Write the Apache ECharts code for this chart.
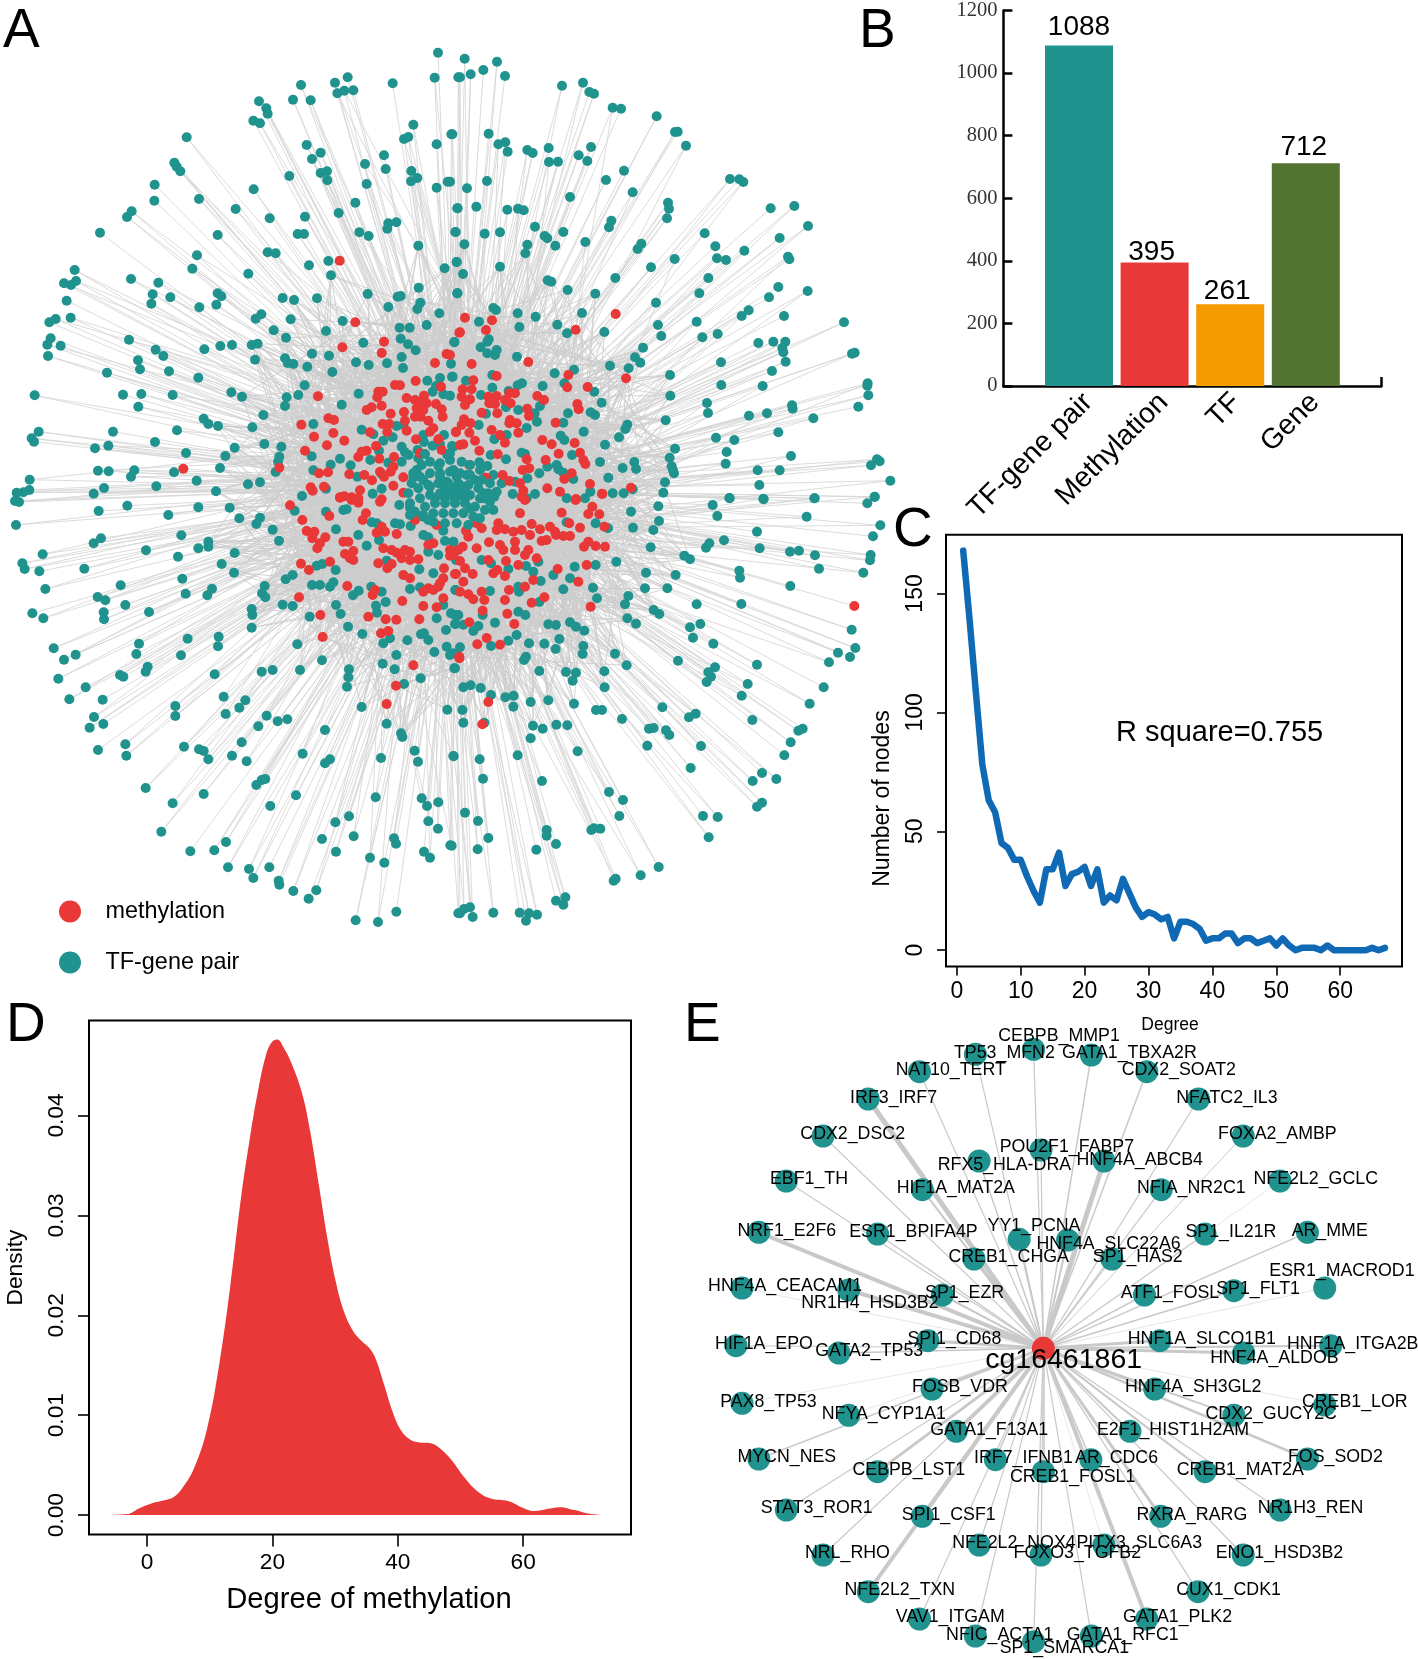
<!DOCTYPE html>
<html><head><meta charset="utf-8">
<style>html,body{margin:0;padding:0;background:#fff}#c{width:1418px;height:1659px}</style>
<script src="https://cdn.jsdelivr.net/npm/echarts@6/dist/echarts.min.js"></script>
</head><body><div id="c"></div>
<script>
const FONT='"Liberation Sans",Arial,sans-serif';
const TEAL='#20938F',RED='#E93838';
// ---------- Panel B
const barCategories=['TF-gene pair','Methylation','TF','Gene'];
const barValues=[1088,395,261,712];
const barColors=[TEAL,RED,'#F59B00','#537330'];
const barLabelNudge=[[0,-2],[-3,6],[-3,3],[-2,0]];
// ---------- Panel C
const degreeNodes=[168,139,108,78,63,58,45,43,38,38,31,25,20,34,34,41,27,32,33,35,27,34,20,23,21,30,24,18,14,16,15,13,14,5,12,12,11,9,4,5,5,7,7,3,5,5,3,4,5,2,5,2,0,1,1,1,0,2,0,0,0,0,0,0,1,0,1];
// ---------- Panel D
const densityX=[-7,-3.2,-1.2,.8,2.8,4.2,5.5,7.5,9.6,11.6,13.3,15,16.3,17.6,19,20,20.8,21.7,23,24.7,26,27.4,28.8,30.1,31.4,32.8,34.1,35.5,36.5,37.8,39.2,40.5,41.9,43.2,45.3,46.9,48.6,50.6,52.7,54.7,57.7,60.1,61.8,63.8,65.8,68.2,70.8,73.5];
const densityY=[0,.0001,.0007,.0012,.0015,.0018,.0026,.0047,.0087,.0154,.023,.0318,.0373,.0421,.0461,.0474,.0476,.0469,.0453,.0423,.0385,.0331,.0276,.0234,.0204,.0185,.0175,.0167,.0156,.0131,.0103,.0085,.0076,.0073,.0072,.0066,.0055,.0038,.0024,.0017,.0014,.0007,.0004,.0006,.0008,.0005,.0001,0];
// ---------- Panel E: [name, nodeX, nodeY, labelLeft, labelY, edgeWidth] in layout units
const hubName='cg16461861';
const hubPos=[763,1015];
const subNet=[
['CEBPB_MMP1',742,118,665,73,1.2],['TP53_MFN2',617,133,570,125,1.2],['GATA1_TBXA2R',866,135,802,125,1.5],['NAT10_TERT',497,185,445,176,1.2],['CDX2_SOAT2',985,185,930,176,1.5],
['IRF3_IRF7',387,267,347,258,5],['NFATC2_IL3',1096,267,1047,258,1.2],['CDX2_DSC2',290,378,240,368,1.2],['FOXA2_AMBP',1192,378,1137,368,1],['POU2F1_FABP7',758,420,668,405,1.2],
['RFX5_HLA-DRA',625,453,535,460,1.5],['HNF4A_ABCB4',893,453,833,444,5],['EBF1_TH',211,513,175,503,1.2],['HIF1A_MAT2A',503,539,447,529,2],['NFIA_NR2C1',1016,539,963,529,1.2],
['NFE2L2_GCLC',1271,513,1213,503,.7],['NRF1_E2F6',152,667,105,657,4],['ESR1_BPIFA4P',407,672,345,662,1.5],['YY1_PCNA',711,688,642,643,2],['HNF4A_SLC22A6',815,690,747,696,2],
['SP1_IL21R',1110,672,1067,662,1.2],['AR_MME',1330,667,1295,657,1.5],['CREB1_CHGA',614,747,558,737,3],['SP1_HAS2',910,747,868,737,1.2],['ESR1_MACROD1',1367,834,1247,779,.8],
['HNF4A_CEACAM1',116,834,42,824,.8],['NR1H4_HSD3B2',345,840,242,875,4],['SP1_EZR',546,855,508,845,2],['ATF1_FOSL',980,855,928,845,1.5],['SP1_FLT1',1172,842,1133,832,1.5],
['HIF1A_EPO',103,1007,57,997,1],['SPI1_CD68',515,992,470,982,3],['HNF1A_SLCO1B1',1013,992,943,982,3],['HNF1A_ITGA2B',1380,1007,1285,997,2],['GATA2_TP53',324,1029,272,1019,1.5],
['HNF4A_ALDOB',1193,1029,1120,1038,3],['FOSB_VDR',524,1137,480,1127,3],['HNF4A_SH3GL2',1002,1137,937,1127,3],['PAX8_TP53',116,1180,68,1170,.7],['CREB1_LOR',1367,1185,1317,1170,.7],
['NFYA_CYP1A1',345,1216,286,1206,.7],['CDX2_GUCY2C',1172,1216,1110,1206,2],['GATA1_F13A1',576,1264,519,1254,4],['E2F1_HIST1H2AM',949,1264,877,1254,2],['MYCN_NES',152,1347,105,1337,1.5],
['FOS_SOD2',1330,1347,1287,1337,2.5],['IRF7_IFNB1',660,1349,613,1340,1.5],['AR_CDC6',865,1349,830,1340,1.5],['CEBPB_LST1',407,1385,352,1375,3],['CREB1_MAT2A',1110,1385,1048,1375,2],
['CREB1_FOSL1',763,1385,690,1396,1.5],['STAT3_ROR1',211,1500,155,1490,1.2],['NR1H3_REN',1271,1500,1222,1490,1.2],['SPI1_CSF1',503,1519,458,1509,4],['RXRA_RARG',1015,1519,962,1509,3],
['NFE2L2_NOX4',625,1605,566,1595,1.2],['PITX3_SLC6A3',893,1605,833,1595,.7],['NRL_RHO',290,1635,250,1625,1.2],['ENO1_HSD3B2',1192,1635,1132,1625,1.2],['FOXO3_TGFB2',758,1635,698,1625,1.2],
['NFE2L2_TXN',387,1745,335,1736,4],['CUX1_CDK1',1095,1745,1047,1736,1.2],['VAV1_ITGAM',497,1827,445,1817,1.2],['GATA1_PLK2',985,1827,933,1817,4],['NFIC_ACTA1',617,1878,553,1869,1.2],
['GATA1_RFC1',866,1878,812,1869,1.2],['SP1_SMARCA1',742,1895,668,1910,1.2]];
// ---------- Panel A: node layout, read quadrant by quadrant
const pairsNW=[[1314,158],[1304,233],[1375,232],[1043,232],[1005,248],[903,255],[1178,250],[1012,280],[1033,272],[1060,271],[879,299],[932,301],[777,304],[799,325],[803,341],[760,362],[780,370],[1240,374],[1354,403],[1212,417],[1225,411],[1310,433],[920,435],[962,458],[1152,466],[936,477],[1095,492],[1157,507],[1234,513],[981,514],[962,519],[560,412],[523,488],[530,500],[541,514],[982,541],[868,528],[1252,534],[1233,544],[1343,545],[1310,563],[1100,552],[464,554],[761,568],[597,597],[463,602],[1066,608],[707,627],[1372,625],[395,634],[381,651],[809,655],[915,650],[1016,639],[1189,667],[1165,670],[1162,686],[300,698],[653,705],[893,702],[912,702],[1078,697],[1106,708],[1367,696],[1255,737],[803,757],[827,760],[591,766],[985,783],[927,796],[577,806],[1370,786],[1334,805],[224,810],[745,821],[993,826],[393,837],[192,850],[213,855],[228,843],[475,848],[458,883],[511,892],[653,880],[664,889],[848,894],[882,900],[951,895],[1103,882],[1193,890],[1202,888],[1256,863],[1371,880],[200,902],[454,911],[649,914],[598,922],[1165,921],[1261,908],[1252,927],[784,943],[767,956],[872,958],[1318,940],[212,953],[148,967],[167,957],[1028,963],[1199,983],[1229,983],[1280,975],[821,991],[978,993],[858,1013],[152,1015],[387,1019],[142,1034],[182,1037],[1202,1016],[1224,1033],[1090,1028],[1363,1026],[613,1048],[661,1038],[696,1035],[755,1035],[773,1031],[467,1049],[1247,1051],[490,1068],[144,1068],[936,1061],[987,1067],[855,1075],[765,1079],[414,1081],[863,1089],[880,1092],[1068,1087],[1106,1095],[1161,1090],[1205,1071],[922,1100],[1209,1104],[1353,1091],[420,1108],[507,1114],[997,1116],[321,1118],[595,1133],[1282,1142],[1320,1134],[1356,1130],[914,1156],[1076,1181],[1308,1158],[1298,1175],[1330,1183],[694,1177],[369,1184],[424,1182],[518,1185],[726,1190],[860,1192],[895,1185],[1350,1187],[104,1186],[415,1220],[855,1218],[1025,1214],[790,1245],[611,1256],[625,1272],[654,1278],[757,1282],[940,1272],[1085,1289],[1190,1278],[1210,1275],[531,1291],[339,1295],[116,1295],[95,1315],[102,1325],[285,1345],[325,1337],[465,1326],[1120,1303],[1178,1312],[1150,1322],[1270,1305],[1332,1305],[1272,1326],[1298,1337],[1320,1332],[793,1332],[844,1340],[704,1343],[558,1359],[676,1368],[838,1370],[935,1369],[1137,1352],[1205,1340],[1215,1357],[1253,1350],[1226,1365],[1356,1338],[834,1385],[1020,1376],[1111,1380],[1165,1388],[1205,1385],[1342,1365],[660,1404],[294,1412],[326,1414],[403,1411],[393,1430],[522,1417],[827,1416],[940,1411],[992,1394],[1052,1396],[1315,1398],[1255,1375],[1072,1430],[1145,1422],[1250,1410],[1240,1432],[1320,1430],[1360,1410],[89,1439],[590,1442],[780,1447],[744,1453],[469,1459],[312,1464],[88,1470],[70,1477],[50,1478],[281,1481],[648,1474],[906,1488],[978,1466],[1118,1481],[1145,1466],[1270,1440],[1340,1445],[1290,1460]];
const methNW=[[1019,782],[1066,967],[1152,1025],[1027,1042],[1145,1059],[1340,1062],[1305,1089],[1247,1143],[1378,998],[1185,1155],[1200,1156],[1323,1160],[954,1189],[1135,1175],[1148,1175],[1132,1192],[1220,1194],[1272,1187],[1245,1200],[1262,1205],[1280,1210],[1308,1212],[1145,1217],[1115,1222],[1100,1230],[1325,1228],[1212,1236],[1250,1225],[1270,1230],[1172,1241],[985,1255],[1002,1260],[1245,1250],[1262,1250],[1328,1250],[1215,1262],[1285,1262],[904,1274],[1148,1272],[1168,1272],[1300,1285],[1220,1292],[1162,1296],[1290,1295],[1368,1295],[1000,1299],[1110,1297],[942,1310],[1248,1318],[1315,1318],[981,1336],[1033,1322],[1128,1338],[1100,1352],[915,1352],[1085,1355],[1075,1371],[1138,1376],[1182,1371],[1325,1350],[1260,1360],[838,1403],[1180,1400],[1172,1415],[550,1406],[957,1420],[984,1417],[1048,1423],[1093,1425],[1140,1415],[1116,1441],[1210,1432],[1152,1430],[932,1462],[938,1472],[972,1460],[1080,1471],[1180,1457],[1210,1478],[1020,1492],[1033,1489],[1055,1492],[1075,1495],[1145,1498]];
const pairsNE=[[44,176],[141,185],[100,210],[62,223],[30,232],[165,228],[336,257],[399,248],[418,276],[432,281],[488,323],[513,326],[620,349],[675,396],[683,395],[708,437],[7,403],[116,401],[145,433],[166,427],[173,455],[232,450],[248,459],[296,444],[423,441],[386,466],[412,483],[297,486],[324,485],[522,512],[468,540],[840,537],[868,538],[880,546],[0,545],[111,543],[51,565],[548,577],[360,591],[654,608],[657,626],[962,625],[1033,618],[23,625],[79,620],[172,629],[204,626],[221,631],[651,655],[1074,678],[484,662],[477,682],[255,680],[16,696],[104,701],[150,697],[340,696],[284,708],[292,715],[764,700],[989,714],[406,726],[43,733],[232,734],[226,760],[316,737],[574,731],[563,747],[796,739],[883,752],[801,775],[828,780],[674,777],[1014,770],[1018,778],[20,786],[150,800],[39,822],[603,802],[775,834],[496,834],[293,841],[304,845],[985,861],[353,870],[436,881],[748,880],[1073,873],[23,880],[957,892],[618,908],[896,931],[875,948],[130,924],[138,930],[203,940],[257,950],[396,939],[1002,948],[1182,967],[740,965],[87,965],[322,974],[208,981],[624,975],[463,996],[351,1000],[634,1008],[803,1002],[757,1012],[925,1029],[970,1025],[1006,1025],[997,1044],[1000,1057],[1007,1085],[1206,1061],[1214,1058],[13,1027],[116,1018],[112,1025],[92,1042],[112,1060],[135,1065],[140,1050],[579,1043],[201,1070],[555,1072],[571,1088],[813,1087],[480,1097],[536,1105],[372,1109],[966,1113],[314,1120],[8,1130],[127,1125],[660,1125],[343,1150],[48,1142],[216,1150],[203,1156],[278,1158],[814,1155],[938,1158],[1253,1150],[1252,1157],[433,1175],[176,1173],[127,1163],[93,1185],[1255,1186],[661,1187],[168,1222],[771,1209],[455,1208],[1026,1216],[1028,1226],[1225,1220],[270,1218],[205,1230],[422,1237],[435,1245],[774,1239],[354,1240],[108,1241],[254,1240],[897,1247],[951,1240],[1090,1255],[261,1265],[340,1268],[647,1261],[532,1274],[526,1287],[230,1284],[86,1275],[985,1297],[401,1295],[507,1312],[798,1313],[853,1320],[133,1318],[170,1305],[332,1307],[343,1320],[465,1334],[675,1346],[830,1356],[1023,1368],[1281,1378],[1289,1384],[1263,1396],[659,1373],[366,1365],[225,1362],[215,1358],[168,1378],[122,1365],[450,1386],[553,1386],[558,1407],[665,1399],[669,1411],[672,1420],[827,1391],[989,1411],[923,1411],[1321,1442],[928,1455],[518,1404],[320,1395],[292,1400],[325,1408],[340,1418],[268,1420],[370,1437],[475,1433],[645,1447],[232,1435],[195,1445],[155,1450],[130,1425],[112,1398],[88,1387],[10,1340],[640,1478],[488,1480],[521,1480],[548,1468],[421,1475],[255,1482],[188,1482],[838,1494],[940,1496],[1093,1495],[1274,1491],[405,1495],[350,1495],[230,1495],[133,1490],[100,1480],[40,1460],[20,1430],[50,1425],[75,1440]];
const methNE=[[45,953],[126,961],[30,997],[108,990],[65,1092],[235,1086],[497,942],[377,989],[528,1135],[355,1125],[352,1162],[413,1161],[140,1128],[70,1141],[38,1168],[65,1168],[35,1190],[60,1198],[45,1215],[115,1190],[140,1188],[118,1210],[135,1212],[178,1180],[195,1180],[165,1200],[182,1210],[262,1188],[282,1200],[232,1226],[237,1248],[382,1212],[386,1228],[95,1238],[142,1240],[42,1258],[62,1270],[180,1260],[178,1270],[200,1270],[35,1275],[125,1290],[18,1297],[58,1298],[205,1298],[317,1268],[150,1305],[75,1322],[165,1328],[277,1320],[305,1333],[374,1329],[326,1361],[88,1352],[143,1363],[390,1358],[287,1380],[400,1380],[406,1392],[230,1378],[58,1395],[238,1405],[218,1410],[365,1420],[108,1433],[158,1425],[178,1443],[343,1437],[210,1450],[420,1452],[220,1472],[292,1465],[330,1475],[456,1481],[543,1463],[378,1497],[30,1335],[40,1333],[0,1065],[215,1490],[225,1500]];
const pairsSW=[[45,33],[57,36],[382,47],[595,52],[689,53],[296,63],[505,75],[718,85],[780,83],[769,102],[48,105],[884,62],[978,65],[1030,60],[1040,58],[818,119],[544,136],[303,145],[281,160],[625,155],[625,170],[837,152],[438,181],[595,175],[128,193],[704,189],[534,200],[1008,118],[1075,135],[1115,97],[1130,100],[1185,100],[1200,103],[1232,108],[1198,45],[1230,53],[1270,75],[1285,90],[1330,122],[1270,135],[1285,142],[1137,150],[1100,167],[1335,153],[1360,157],[1285,185],[1315,195],[1160,212],[67,220],[74,237],[118,244],[253,236],[665,222],[702,248],[950,227],[967,222],[1007,240],[1258,238],[1300,250],[1368,210],[547,266],[136,297],[362,286],[857,268],[878,255],[936,285],[960,285],[990,290],[1000,277],[794,288],[1114,290],[1076,302],[1059,316],[1145,305],[1230,297],[1260,292],[1366,300],[636,296],[622,316],[557,311],[293,321],[316,331],[786,310],[796,322],[848,344],[878,348],[376,345],[1008,345],[1128,347],[1157,336],[1131,368],[1330,345],[311,367],[312,388],[447,366],[97,370],[130,385],[755,357],[757,375],[929,380],[1022,372],[1353,370],[1370,378],[755,413],[1044,410],[1087,432],[1310,385],[1367,402],[1338,420],[1263,433],[1272,430],[1285,450],[1170,445],[1150,460],[1222,451],[1340,470],[1350,495],[656,440],[417,461],[563,446],[654,469],[161,475],[892,463],[227,494],[192,509],[409,492],[543,496],[1303,486],[1189,495],[443,530],[437,545],[966,511],[1148,521],[1047,538],[1045,562],[1041,590],[360,555],[370,560],[644,553],[785,545],[818,540],[900,540],[1184,538],[1262,565],[1363,535],[175,566],[257,592],[1212,582],[208,628],[308,629],[671,620],[736,631],[718,653],[526,648],[1085,651],[1342,659],[677,672],[282,681],[310,702],[526,678],[800,677],[862,688],[833,694],[269,713],[775,709],[975,720],[1160,701],[1203,730],[1207,741],[376,763],[294,780],[379,797],[552,770],[597,778],[611,783],[725,757],[1244,782],[1360,798],[908,791],[696,797],[625,808],[740,814],[990,808],[1254,815],[1143,804],[975,820],[437,894],[796,867],[785,870],[769,885],[611,912],[888,916],[1127,922],[518,940],[811,948],[1265,925],[1281,948],[1315,937],[1047,979],[1006,997],[1285,994],[484,1025],[1314,1016],[966,1047],[1061,1039],[1182,1045],[1188,1061],[678,1056],[643,1081],[571,1084],[1351,1066],[1008,1085],[1272,1085],[1290,1103],[1110,1103],[1153,1118],[684,1132],[747,1137],[808,1132],[760,1164],[836,1172],[838,1184],[880,1203],[949,1201],[926,1226],[1067,1291],[1134,1296],[1189,1265],[1375,1270]];
const methSW=[[870,46],[907,90],[988,78],[1020,23],[1055,30],[1075,38],[1098,70],[1088,90],[1140,35],[1245,90],[1310,105],[920,123],[943,125],[937,145],[976,142],[960,160],[952,175],[1030,155],[1045,155],[1145,110],[1130,128],[1155,125],[1190,132],[1150,175],[1175,180],[1190,188],[1215,180],[1230,185],[1205,205],[1230,210],[1255,208],[1300,160],[1285,165],[1375,180],[1350,197],[1060,183],[1035,192],[1050,205],[1060,210],[903,221],[990,215],[927,240],[1135,220],[1162,235],[1175,222],[1210,255],[1230,265],[1332,235],[1368,252],[1330,265],[1320,280],[1042,288],[1118,315],[1125,300],[897,322],[1207,333],[1270,305],[1285,295],[1300,300],[1315,290],[1330,325],[1310,352],[1270,348],[961,375],[1105,380],[1157,388],[1189,389],[1258,388],[968,441],[1143,430],[1165,423],[1240,526],[1188,587],[1160,642],[1378,505]];
const pairsSE=[[839,25],[941,28],[1094,25],[1274,20],[1252,40],[788,45],[625,49],[802,78],[1070,80],[1291,106],[1269,139],[543,65],[627,93],[921,125],[610,120],[549,113],[474,115],[437,100],[350,97],[822,151],[778,160],[768,173],[1047,182],[1020,185],[929,175],[1095,196],[602,172],[703,197],[720,208],[1262,195],[1260,211],[1107,236],[1240,248],[588,248],[677,255],[868,242],[870,263],[499,215],[437,225],[374,230],[1021,288],[585,295],[652,295],[429,293],[441,325],[340,298],[272,273],[535,318],[525,343],[740,343],[874,342],[268,336],[611,360],[628,372],[532,385],[558,401],[751,402],[720,412],[360,397],[378,410],[403,422],[295,403],[318,405],[205,365],[226,375],[135,398],[200,435],[175,452],[123,468],[328,447],[237,460],[283,461],[317,477],[400,468],[398,492],[729,443],[790,461],[495,491],[921,524],[530,526],[684,512],[228,500],[222,510],[268,543],[348,546],[378,548],[368,572],[463,544],[464,592],[795,532],[775,547],[783,560],[770,576],[893,582],[1121,592],[1205,419],[1216,474],[1164,488],[1200,501],[1137,517],[40,592],[62,586],[92,594],[123,615],[166,622],[191,617],[190,650],[242,636],[295,631],[372,641],[1079,641],[875,617],[438,660],[456,660],[637,652],[516,687],[737,671],[717,682],[907,690],[37,660],[40,698],[103,698],[249,707],[278,716],[319,704],[352,706],[597,716],[611,714],[648,721],[658,735],[1058,716],[1045,722],[242,745],[592,767],[753,768],[1022,757],[1003,796],[383,784],[203,796],[11,799],[89,808],[722,834],[936,849],[908,873],[979,867],[99,866],[276,873],[477,906],[519,930],[936,938],[921,950],[45,968],[84,993],[508,978],[759,978],[803,981],[290,1020],[290,1037],[424,1020],[432,1015],[451,1016],[115,1044],[776,1042],[318,1062],[5,1067],[83,1078],[259,1079],[626,1131],[572,1156],[491,1172],[497,1166],[346,1222],[318,1232],[340,1244],[130,1268],[209,1268],[237,1270],[261,1274],[228,1292],[60,1252],[42,1257],[30,1270],[68,1281],[15,30],[30,15],[100,25],[60,55],[10,155],[95,210],[123,220],[175,237],[228,228],[265,215],[250,245],[310,255],[360,265],[205,290],[207,305],[120,303],[17,300],[15,375],[25,375],[15,402],[40,404],[70,423],[85,408],[98,375],[30,472],[10,490],[15,535]];
const methSE=[[457,12],[335,68],[377,30],[427,50],[415,72],[448,73],[463,110],[390,113],[360,138],[340,138],[318,135],[290,150],[275,153],[358,100],[300,110],[315,125],[270,118],[240,135],[215,120],[190,125],[165,118],[140,120],[145,100],[210,70],[245,102],[80,100],[95,115],[48,122],[55,140],[117,157],[150,165],[160,180],[195,180],[235,180],[225,195],[415,155],[402,170],[437,168],[465,170],[410,225],[323,237],[385,275],[260,205],[168,213],[205,225],[130,250],[142,240],[165,258],[250,270],[225,290],[283,322],[245,338],[177,300],[165,330],[103,330],[95,305],[70,328],[55,313],[30,305],[68,252],[45,235],[15,252],[40,275],[30,213],[38,170],[10,195],[422,350],[98,362],[172,371],[193,402],[110,444],[58,397],[82,463],[150,464],[28,500],[115,636],[97,703],[1213,348],[0,180],[195,155],[80,175],[115,210]];
const pairsCore=[[1240,1420],[1265,1395],[1290,1385],[1320,1390],[1350,1380],[1385,1385],[1410,1395],[1440,1410],[1235,1450],[1260,1430],[1290,1420],[1320,1420],[1350,1415],[1380,1420],[1410,1425],[1445,1440],[1470,1450],[1225,1480],[1255,1465],[1285,1455],[1315,1450],[1345,1450],[1375,1450],[1405,1455],[1435,1465],[1465,1480],[1230,1510],[1260,1495],[1290,1485],[1320,1480],[1350,1480],[1380,1480],[1410,1485],[1440,1495],[1470,1505],[1245,1535],[1275,1520],[1305,1510],[1335,1510],[1365,1510],[1395,1510],[1425,1520],[1455,1530],[1270,1550],[1300,1540],[1330,1540],[1360,1540],[1390,1540],[1420,1550],[1300,1565],[1335,1570],[1370,1570],[1405,1575],[1350,1360],[1275,1362],[1440,1555],[1230,1545],[1480,1530],[1490,1475],[1335,1465],[1365,1465],[1395,1465],[1305,1495],[1335,1495],[1365,1495],[1395,1495]];

const shift=(arr,dx,dy)=>arr.map(p=>[p[0]+dx,p[1]+dy]);
const pairs=[...pairsNW,...shift(pairsNE,1350,0),...shift(pairsSW,0,1470),...shift(pairsSE,1350,1470)];
const meth=[...methNW,...shift(methNE,1350,0),...shift(methSW,0,1470),...shift(methSE,1350,1470)];
// links of the network cannot be traced one by one: each pair is tied to methylation sites on its own bearing
const C0=[1365,1470];
const bearing=p=>Math.atan2(p[1]-C0[1],p[0]-C0[0]);
const radius=p=>Math.hypot(p[0]-C0[0],p[1]-C0[1]);
const methByBearing=meth.filter(m=>radius(m)<=620).sort((a,b)=>bearing(a)-bearing(b));
const nearestIdx=p=>{let b=0,best=9;const t=bearing(p);methByBearing.forEach((m,i)=>{let d=Math.abs(bearing(m)-t);if(d>Math.PI)d=2*Math.PI-d;if(d<best){best=d;b=i}});return b};
const linksOuter=[],linksInner=[];
const N=methByBearing.length;
meth.filter(m=>radius(m)>620).forEach(m=>linksOuter.push({coords:[m,methByBearing[nearestIdx(m)]]}));
pairs.forEach((p,i)=>{
  const k=nearestIdx(p),r=radius(p);
  if(r>760){
    linksOuter.push({coords:[p,methByBearing[k]]});
    if(i%3)linksOuter.push({coords:[p,methByBearing[(k+4+i%9)%N]]});
  }else{
    const n=r>500?7:11;
    for(let s=0;s<n;s++)linksInner.push({coords:[p,methByBearing[(k+(s%2?1:-1)*(4+s*7+i%6)+N*2)%N]]});
  }
});
pairsCore.forEach((p,i)=>{for(let s=0;s<18;s++)linksInner.push({coords:[p,methByBearing[(i*5+s*17)%N]]})});

const blackAxis={lineStyle:{color:'#000',width:1.6}};
const tickText=s=>({color:'#000',fontSize:s,fontFamily:FONT});
const option={
  animation:false,backgroundColor:'#fff',
  textStyle:{fontFamily:FONT},
  title:[['A',3,4],['B',859,4],['C',893,503],['D',6,998],['E',684,998]].map(t=>({text:t[0],left:t[1],top:t[2],padding:0,textStyle:{fontSize:55,fontWeight:'normal',color:'#000',fontFamily:FONT}})),
  legend:{left:54,top:895,orient:'vertical',itemWidth:22,itemHeight:22,itemGap:28,selectedMode:false,icon:'circle',
    data:['methylation','TF-gene pair'],formatter:n=>'   '+n,textStyle:{fontSize:23.4,color:'#000',fontFamily:FONT}},
  grid:[
    {left:0,top:0,width:910,height:990},
    {left:1003.4,top:9.3,width:378,height:376.7},
    {left:946,top:534.7,width:456,height:431.7,show:true,borderColor:'#000',borderWidth:2,backgroundColor:'transparent'},
    {left:89,top:1020.6,width:542,height:513.9,show:true,borderColor:'#000',borderWidth:2,backgroundColor:'transparent'},
    {left:688,top:1010,width:728,height:649}
  ],
  xAxis:[
    {gridIndex:0,type:'value',min:0,max:2730,show:false},
    {gridIndex:1,type:'value',min:0,max:5,splitLine:{show:false},axisLine:{onZero:false,lineStyle:{color:'#000',width:2.5}},
      axisTick:{show:true,inside:true,length:9,customValues:[5],lineStyle:{color:'#000',width:2.5}},
      axisLabel:{customValues:[1.12,2.12,3.08,4.12],formatter:v=>barCategories[Math.round(v)-1],rotate:45,margin:12,color:'#000',fontSize:28.5,fontFamily:FONT}},
    {gridIndex:2,type:'value',min:-1.69,max:69.67,splitLine:{show:false},axisLine:{show:false,onZero:false},
      axisTick:{show:true,length:9,customValues:[0,10,20,30,40,50,60],lineStyle:blackAxis.lineStyle},
      axisLabel:{customValues:[0,10,20,30,40,50,60],margin:14,...tickText(23)},
      name:'Degree',nameLocation:'middle',nameGap:50,nameTextStyle:{fontSize:17.5,color:'#000',padding:[0,8,0,0]}},
    {gridIndex:3,type:'value',min:-9.25,max:77.2,splitLine:{show:false},axisLine:{show:false,onZero:false},
      axisTick:{show:true,length:12,customValues:[0,20,40,60],lineStyle:blackAxis.lineStyle},
      axisLabel:{customValues:[0,20,40,60],margin:17,...tickText(22.7)},
      name:'Degree of methylation',nameLocation:'middle',nameGap:51,nameTextStyle:{fontSize:29.2,color:'#000',padding:[0,0,0,18]}},
    {gridIndex:4,type:'value',min:0,max:1563,show:false}
  ],
  yAxis:[
    {gridIndex:0,type:'value',min:0,max:2970,inverse:true,show:false},
    {gridIndex:1,type:'value',min:0,max:1200,interval:200,splitLine:{show:false},axisLine:{show:true,onZero:false,lineStyle:{color:'#000',width:2.5}},
      axisTick:{show:true,inside:true,length:9,lineStyle:{color:'#000',width:2.5}},
      axisLabel:{margin:6,formatter:v=>String(v),color:'#333',fontSize:20.5,fontFamily:'"Liberation Serif",serif'}},
    {gridIndex:2,type:'value',min:-6.8,max:174.7,splitLine:{show:false},axisLine:{show:false,onZero:false},
      axisTick:{show:true,length:9,customValues:[0,50,100,150],lineStyle:blackAxis.lineStyle},
      axisLabel:{customValues:[0,50,100,150],rotate:90,margin:19,...tickText(23)},
      name:'Number of nodes',nameLocation:'middle',nameGap:52,nameTextStyle:{fontSize:23,color:'#000',padding:[0,96,0,0]}},
    {gridIndex:3,type:'value',min:-0.00194,max:0.0495,splitLine:{show:false},axisLine:{show:false,onZero:false},
      axisTick:{show:true,length:11,customValues:[0,.01,.02,.03,.04],lineStyle:blackAxis.lineStyle},
      axisLabel:{customValues:[0,.01,.02,.03,.04],rotate:90,margin:21,formatter:v=>v.toFixed(2),...tickText(22.7)},
      name:'Density',nameLocation:'middle',nameGap:62,nameTextStyle:{fontSize:22.8,color:'#000',padding:[0,0,0,20]}},
    {gridIndex:4,type:'value',min:0,max:1947,inverse:true,show:false}
  ],
  series:[
    // A
    {type:'lines',coordinateSystem:'cartesian2d',xAxisIndex:0,yAxisIndex:0,silent:true,data:linksOuter,lineStyle:{color:'#d6d6d6',width:.85,opacity:1,curveness:0},z:1},
    {type:'lines',coordinateSystem:'cartesian2d',xAxisIndex:0,yAxisIndex:0,silent:true,data:linksInner,lineStyle:{color:'#cccccc',width:.85,opacity:1,curveness:0},z:1},
    {name:'methylation',type:'scatter',xAxisIndex:0,yAxisIndex:0,data:meth,symbolSize:10,itemStyle:{color:RED,opacity:1},silent:true,z:3,clip:false},
    {name:'TF-gene pair',type:'scatter',xAxisIndex:0,yAxisIndex:0,data:pairs,symbolSize:10,itemStyle:{color:TEAL,opacity:1},silent:true,z:2,clip:false},
    {type:'scatter',xAxisIndex:0,yAxisIndex:0,data:pairsCore,symbolSize:10,itemStyle:{color:TEAL,opacity:1},silent:true,z:4,clip:false},
    // B
    {type:'bar',xAxisIndex:1,yAxisIndex:1,barWidth:68,
      data:barValues.map((v,i)=>({value:[i+1,v],itemStyle:{color:barColors[i]},label:{offset:barLabelNudge[i]}})),
      label:{show:true,position:'top',distance:2,formatter:p=>String(p.value[1]),color:'#000',fontSize:28,fontFamily:FONT}},
    // C
    {type:'line',xAxisIndex:2,yAxisIndex:2,showSymbol:false,data:degreeNodes.map((v,i)=>[i+1,v]),lineStyle:{color:'#0F69B5',width:6.5,join:'round',cap:'round'},itemStyle:{color:'#0F69B5'}},
    // D
    {type:'line',xAxisIndex:3,yAxisIndex:3,showSymbol:false,smooth:.4,data:densityX.map((x,i)=>[x,densityY[i]]),lineStyle:{width:0},areaStyle:{color:RED,opacity:1},itemStyle:{color:RED}},
    // E
    {type:'lines',coordinateSystem:'cartesian2d',xAxisIndex:4,yAxisIndex:4,silent:true,z:1,
      data:subNet.map(r=>({coords:[hubPos,[r[1],r[2]]],lineStyle:{width:r[5],color:r[5]<1?'#dedede':'#c9c9c9',opacity:1}})),lineStyle:{curveness:0}},
    {type:'scatter',xAxisIndex:4,yAxisIndex:4,symbolSize:23,itemStyle:{color:TEAL,opacity:1},data:subNet.map(r=>[r[1],r[2]]),z:2,clip:false},
    {type:'scatter',xAxisIndex:4,yAxisIndex:4,symbolSize:23,itemStyle:{color:RED,opacity:1},data:[hubPos],z:3},
    {type:'scatter',xAxisIndex:4,yAxisIndex:4,symbolSize:1,itemStyle:{color:'transparent',opacity:1},z:5,clip:false,
      data:subNet.map(r=>({value:[r[3],r[4]+5],name:r[0]})),
      label:{show:true,opacity:1,position:'right',distance:0,formatter:p=>p.name,fontSize:17.8,color:'#000',fontFamily:FONT}},
    {type:'scatter',xAxisIndex:4,yAxisIndex:4,symbolSize:1,itemStyle:{color:'transparent',opacity:1},z:6,
      data:[{value:[637,1050],name:hubName}],
      label:{show:true,opacity:1,position:'right',distance:0,formatter:p=>p.name,fontSize:28.5,color:'#000',fontFamily:FONT}}
  ],
  graphic:[{type:'text',left:1116,top:718,z:10,style:{text:'R square=0.755',fontSize:29,fontFamily:FONT,fill:'#000'}}]
};
echarts.init(document.getElementById('c'),null,{renderer:'canvas'}).setOption(option);
</script></body></html>
